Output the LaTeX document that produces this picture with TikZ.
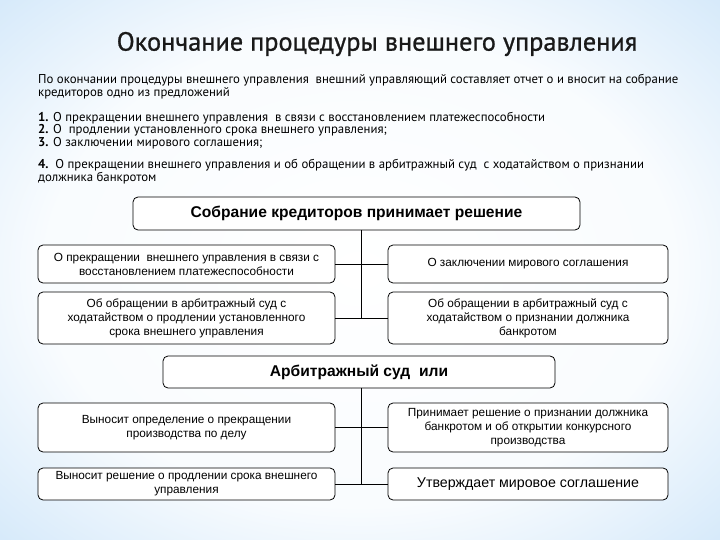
\documentclass[tikz,border=0pt]{standalone}
\usepackage{fontspec}
\setmainfont{Liberation Sans}
\newfontfamily\slidefont{PT Sans}
\newfontfamily\titlefont{PT Sans}[FakeBold=0.9]
\definecolor{bgblue}{RGB}{150,200,242}
\definecolor{titleink}{RGB}{25,25,25}
\pgfdeclareradialshading{slidebg}{\pgfpoint{0bp}{0bp}}{color(0bp)=(white); color(22bp)=(white!94!bgblue); color(42bp)=(bgblue!55); color(50bp)=(bgblue!85); color(70bp)=(bgblue)}
\begin{document}
\begin{tikzpicture}[x=1pt, y=-1pt,
		box/.style={draw, thick, rounded corners=5pt, fill=white, align=center, inner sep=0pt, font=\fontsize{11.8}{14}\selectfont},
		leftbox/.style={box, minimum width=297pt},
		rightbox/.style={box, minimum width=280pt},
		headbox/.style={box, font=\bfseries\fontsize{15.6}{18}\selectfont},
		plain/.style={anchor=west, inner sep=0pt, align=left, font=\slidefont\fontsize{12.8}{12.8}\selectfont}]
		\useasboundingbox (0, 0) rectangle (720, 540);
		\shade[shading=slidebg] (0, 0) rectangle (720, 540);
		% title and text
		\node[text=titleink, font=\titlefont\fontsize{26.3}{30}\selectfont] (title) at (377, 44) {Окончание процедуры внешнего управления};
		\node[plain] (intro) at (38, 86.5) {По окончании процедуры внешнего управления\ \ внешний управляющий составляет отчет о и вносит на собрание\\кредиторов одно из предложений};
		\node[plain] (list) at (38, 130.5) {\textbf{1.} О прекращении внешнего управления\ \ в связи с восстановлением платежеспособности\\\textbf{2.} О\ \ продлении установленного срока внешнего управления;\\\textbf{3.} О заключении мирового соглашения;};
		\node[plain] (last) at (38, 171.5) {\textbf{4.}\ \ О прекращении внешнего управления и об обращении в арбитражный суд\ \ с ходатайством о признании\\должника банкротом};
		% creditors meeting
		\node[headbox, minimum width=447pt, minimum height=33pt] (meeting) at (356.5, 213.5) {Собрание кредиторов принимает решение};
		\node[leftbox, minimum height=38pt] (l1) at (186.5, 264) {О прекращении\ \ внешнего управления в связи с\\восстановлением платежеспособности};
		\node[leftbox, minimum height=52pt] (l2) at (186.5, 318) {Об обращении в арбитражный суд с\\ходатайством о продлении установленного\\срока внешнего управления};
		\node[rightbox, minimum height=38pt] (r1) at (528, 264) {О заключении мирового соглашения};
		\node[rightbox, minimum height=52pt] (r2) at (528, 318) {Об обращении в арбитражный суд с\\ходатайством о признании должника\\банкротом};
		\coordinate (v1) at (361, 318);
		\draw (meeting.south -| v1) -- (v1);
		\draw (l1.east) -- (r1.west);
		\draw (l2.east) -- (r2.west);
		% court
		\node[headbox, minimum width=392pt, minimum height=32pt] (court) at (359, 372) {Арбитражный суд\ \ или};
		\node[leftbox, minimum height=49pt] (l3) at (186.5, 427.5) {Выносит определение о прекращении\\производства по делу};
		\node[leftbox, minimum height=32pt] (l4) at (186.5, 484) {Выносит решение о продлении срока внешнего\\управления};
		\node[rightbox, minimum height=49pt] (r3) at (528, 427.5) {Принимает решение о признании должника\\банкротом и об открытии конкурсного\\производства};
		\node[rightbox, minimum height=32pt, font=\fontsize{14.2}{16}\selectfont] (r4) at (528, 484) {Утверждает мировое соглашение};
		\coordinate (v2) at (361, 484);
		\draw (court.south -| v2) -- (v2);
		\draw (l3.east) -- (r3.west);
		\draw (l4.east) -- (r4.west);
	\end{tikzpicture}
\end{document}
